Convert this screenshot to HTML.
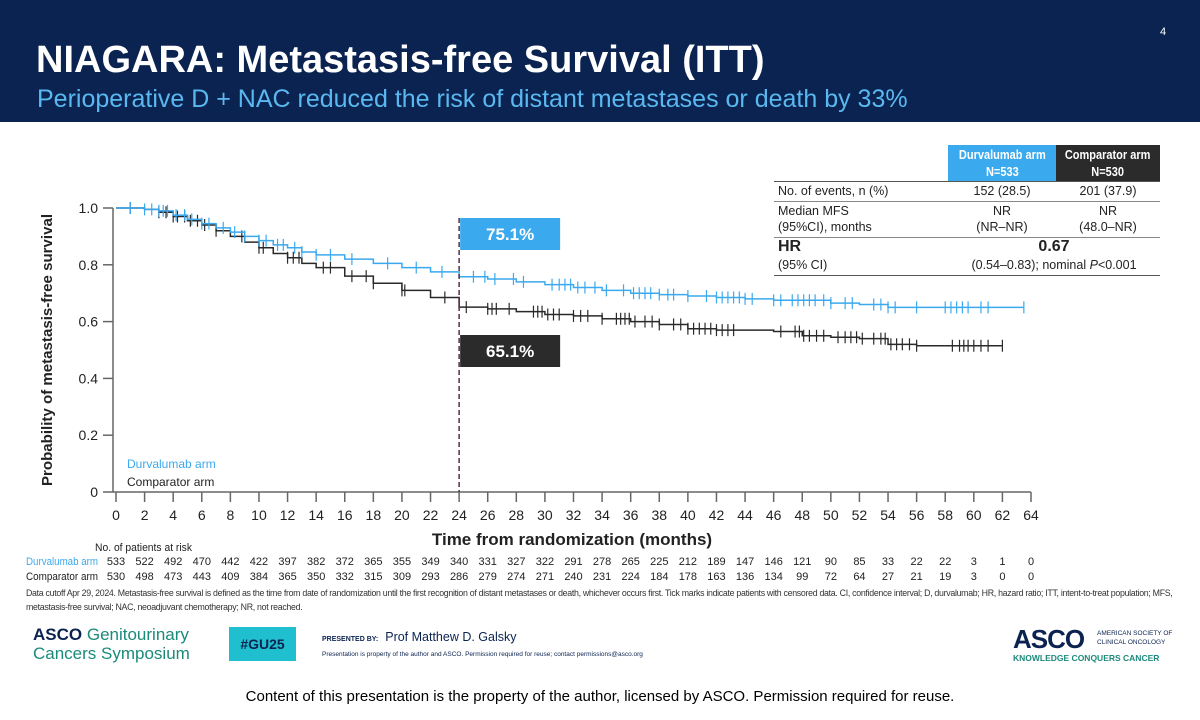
<!DOCTYPE html>
<html><head><meta charset="utf-8">
<style>
body{margin:0;width:1200px;height:720px;background:#fff;font-family:"Liberation Sans",sans-serif;overflow:hidden;position:relative}
.abs{position:absolute}
.nar{display:inline-block;transform:scaleX(0.88);transform-origin:center}
</style></head>
<body>
<div class="abs" style="left:0;top:0;width:1200px;height:122px;background:#0b2350"></div>
<div class="abs" style="left:36px;top:39px;color:#fff;font-size:38px;font-weight:bold">NIAGARA: Metastasis-free Survival (ITT)</div>
<div class="abs" style="left:37px;top:85px;color:#5ab8f0;font-size:25px">Perioperative D + NAC reduced the risk of distant metastases or death by 33%</div>
<div class="abs" style="left:1160px;top:26px;color:#fff;font-size:11px">4</div>

<div class="abs" style="left:774px;top:145px;width:386px;font-size:12.5px;color:#222">
 <div class="abs" style="left:174px;top:0;width:108px;height:36px;background:#3ba9ee;color:#fff;font-weight:bold;text-align:center;line-height:17px;padding-top:2px;box-sizing:border-box"><span class="nar">Durvalumab arm<br>N=533</span></div>
 <div class="abs" style="left:282px;top:0;width:104px;height:36px;background:#2b2b2b;color:#fff;font-weight:bold;text-align:center;line-height:17px;padding-top:2px;box-sizing:border-box"><span class="nar">Comparator arm<br>N=530</span></div>
 <div class="abs" style="left:0;top:36px;width:386px;border-top:1px solid #555"></div>
 <div class="abs" style="left:4px;top:39px">No. of events, n (%)</div>
 <div class="abs" style="left:174px;top:39px;width:108px;text-align:center">152 (28.5)</div>
 <div class="abs" style="left:282px;top:39px;width:104px;text-align:center">201 (37.9)</div>
 <div class="abs" style="left:0;top:56px;width:386px;border-top:1px solid #888"></div>
 <div class="abs" style="left:4px;top:58px;line-height:16px">Median MFS<br>(95%CI), months</div>
 <div class="abs" style="left:174px;top:58px;width:108px;text-align:center;line-height:16px">NR<br>(NR–NR)</div>
 <div class="abs" style="left:282px;top:58px;width:104px;text-align:center;line-height:16px">NR<br>(48.0–NR)</div>
 <div class="abs" style="left:0;top:92px;width:386px;border-top:1px solid #888"></div>
 <div class="abs" style="left:4px;top:93px;font-size:16px;font-weight:bold">HR</div>
 <div class="abs" style="left:174px;top:93px;width:212px;text-align:center;font-size:16px;font-weight:bold">0.67</div>
 <div class="abs" style="left:4px;top:113px">(95% CI)</div>
 <div class="abs" style="left:174px;top:113px;width:212px;text-align:center">(0.54–0.83); nominal <i>P</i>&lt;0.001</div>
 <div class="abs" style="left:0;top:130px;width:386px;border-top:1px solid #555"></div>
</div>

<svg class="abs" style="left:0;top:0" width="1200" height="620" id="chart"></svg>

<div class="abs" style="left:26px;top:586px;font-size:8.8px;letter-spacing:-0.3px;color:#333;line-height:14px;width:1155px">Data cutoff Apr 29, 2024. Metastasis-free survival is defined as the time from date of randomization until the first recognition of distant metastases or death, whichever occurs first. Tick marks indicate patients with censored data. CI, confidence interval; D, durvalumab; HR, hazard ratio; ITT, intent-to-treat population; MFS, metastasis-free survival; NAC, neoadjuvant chemotherapy; NR, not reached.</div>

<div class="abs" style="left:33px;top:625px;font-size:17px;line-height:19px;color:#1b8a7a"><b style="color:#0b2350">ASCO</b> Genitourinary<br>Cancers Symposium</div>
<div class="abs" style="left:229px;top:627px;width:67px;height:34px;background:#1fbfcf;color:#0b2350;font-weight:bold;font-size:14px;text-align:center;line-height:34px">#GU25</div>
<div class="abs" style="left:322px;top:630px;font-size:12.5px;color:#0b2350"><span style="font-size:7px;font-weight:bold">PRESENTED BY:</span>&nbsp; Prof Matthew D. Galsky</div>
<div class="abs" style="left:322px;top:651px;font-size:6.5px;color:#0b2350">Presentation is property of the author and ASCO. Permission required for reuse; contact permissions@asco.org</div>
<div class="abs" style="left:1013px;top:624px;color:#0b2350"><span style="font-size:26px;font-weight:bold;letter-spacing:-1px">ASCO</span><span style="position:absolute;left:84px;top:5px;font-size:6.5px;width:80px;line-height:9px">AMERICAN SOCIETY OF CLINICAL ONCOLOGY</span><div style="font-size:8.5px;color:#1b8a7a;font-weight:bold;margin-top:-2px">KNOWLEDGE CONQUERS CANCER</div></div>
<div class="abs" style="left:0;top:688px;width:1200px;text-align:center;font-size:15px;color:#000">Content of this presentation is the property of the author, licensed by ASCO. Permission required for reuse.</div>

<script>
const xTicks=[0,2,4,6,8,10,12,14,16,18,20,22,24,26,28,30,32,34,36,38,40,42,44,46,48,50,52,54,56,58,60,62,64];
const yTicks=[0,0.2,0.4,0.6,0.8,1.0];
const yTickLabels=["0","0.2","0.4","0.6","0.8","1.0"];
const durTimes=[0,1,2,3,4,5,6,7,8,9,10,11,12,13,14,16,18,20,22,24,26,28,30,32,34,36,38,40,42,44,46,48,50,52,54,56,63.5];
const durSurv=[1,1,0.995,0.99,0.975,0.96,0.945,0.93,0.915,0.9,0.885,0.87,0.86,0.845,0.835,0.82,0.805,0.79,0.775,0.758,0.75,0.74,0.73,0.72,0.71,0.70,0.695,0.69,0.685,0.68,0.675,0.675,0.665,0.66,0.65,0.65,0.65];
const compTimes=[0,1,2,3,4,5,6,7,8,9,10,11,12,13,14,16,18,20,22,24,26,28,30,32,34,36,38,40,42,44,46,48,50,52,54,56,62];
const compSurv=[1,1,0.995,0.985,0.97,0.955,0.94,0.92,0.9,0.88,0.86,0.84,0.825,0.805,0.79,0.76,0.735,0.71,0.685,0.651,0.645,0.635,0.625,0.62,0.61,0.60,0.59,0.575,0.57,0.57,0.565,0.55,0.545,0.54,0.52,0.515,0.515];
const durCensor=[1,2,2.5,3,3.3,3.6,4.2,4.8,5.3,6,6.5,7.5,8.3,9,10,10.5,11.3,11.7,12.5,13,14,15,16.5,19,21,22.8,25,25.8,26.5,27.8,28.5,30.5,31,31.4,31.8,32.3,32.8,33.5,34.3,35.5,36.2,36.6,37,37.4,38,38.6,39,40,41.3,42,42.4,42.8,43.2,43.6,44,44.5,46,46.5,47.3,47.7,48.1,48.5,48.9,49.5,50,51,51.5,53,53.5,54,54.5,56,58,58.4,58.8,59.2,59.6,60.5,61,63.5];
const compCensor=[1,3,3.5,4,4.3,4.8,5.2,5.7,6.2,7,8.8,10,10.3,12,12.4,12.8,14.5,15,16.5,17.5,18,20,20.2,23,24.5,26,26.3,26.6,27.5,29.2,29.5,29.8,30.2,30.6,31,32,32.5,33,34,35,35.3,35.6,35.9,36.3,37,37.5,38,39,39.5,40,40.4,40.8,41.2,41.6,42,42.4,42.8,43.2,46.5,47.5,47.8,48.1,48.5,49,49.5,50.5,51,51.4,51.8,52.2,53,53.5,53.8,54.2,54.6,55,55.5,56,58.5,59,59.3,59.6,60,60.5,61,62];
const riskDur=[533,522,492,470,442,422,397,382,372,365,355,349,340,331,327,322,291,278,265,225,212,189,147,146,121,90,85,33,22,22,3,1,0];
const riskComp=[530,498,473,443,409,384,365,350,332,315,309,293,286,279,274,271,240,231,224,184,178,163,136,134,99,72,64,27,21,19,3,0,0];

const NS="http://www.w3.org/2000/svg";
const svg=document.getElementById('chart');
const X0=116,X1=1031,Y0=492,Y1=208;
const xs=t=>X0+(t/64)*(X1-X0);
const ys=v=>Y0-v*(Y0-Y1);
function mk(tag,attrs,parent){const e=document.createElementNS(NS,tag);for(const k in attrs)e.setAttribute(k,attrs[k]);(parent||svg).appendChild(e);return e;}
function txt(s,attrs){const e=mk('text',attrs);e.textContent=s;return e;}

let ax=mk('line',{x1:X0-3,y1:Y1,x2:X0-3,y2:Y0,stroke:'#666','stroke-width':1.5});


let axx=mk('line',{x1:X0-3,y1:Y0,x2:X1,y2:Y0,stroke:'#666','stroke-width':1.5});


yTicks.forEach((v,i)=>{
  mk('line',{x1:X0-13,y1:ys(v),x2:X0-3,y2:ys(v),stroke:'#666','stroke-width':1.5});
  const t=txt(yTickLabels[i],{x:X0-18,y:ys(v)+5,'text-anchor':'end','font-size':14,fill:'#222'});
  
  
});
xTicks.forEach((v,i)=>{
  mk('line',{x1:xs(v),y1:Y0,x2:xs(v),y2:Y0+10,stroke:'#666','stroke-width':1.5});
  const t=txt(String(v),{x:xs(v),y:Y0+28,'text-anchor':'middle','font-size':14,fill:'#222'});
  
  
  const a=txt(String(riskDur[i]),{x:xs(v),y:565,'text-anchor':'middle','font-size':11,fill:'#222'});
  
  
  const b=txt(String(riskComp[i]),{x:xs(v),y:580,'text-anchor':'middle','font-size':11,fill:'#222'});
  
  
});
let yt=txt('Probability of metastasis-free survival',{x:0,y:0,transform:'translate(52,350) rotate(-90)','text-anchor':'middle','font-size':15,'font-weight':'bold',fill:'#222',textLength:272,lengthAdjust:'spacingAndGlyphs'});


let xt=txt('Time from randomization (months)',{x:572,y:545,'text-anchor':'middle','font-size':17,'font-weight':'bold',fill:'#222'});


let rt=txt('No. of patients at risk',{x:95,y:551,'font-size':11,fill:'#222',textLength:97,lengthAdjust:'spacingAndGlyphs'});


let rl1=txt('Durvalumab arm',{x:26,y:565,'font-size':11,fill:'#3ba9ee',textLength:72,lengthAdjust:'spacingAndGlyphs'});


let rl2=txt('Comparator arm',{x:26,y:580,'font-size':11,fill:'#222',textLength:72,lengthAdjust:'spacingAndGlyphs'});



function step(times,surv){let d=`M${xs(times[0])},${ys(surv[0])}`;for(let i=1;i<times.length;i++){d+=`H${xs(times[i])}V${ys(surv[i])}`;}return d;}
function survAt(times,surv,t){let v=surv[0];for(let i=0;i<times.length;i++){if(times[i]<=t)v=surv[i];}return v;}
function drawSeries(times,surv,cens,col,name){
  const p=mk('path',{d:step(times,surv),fill:'none',stroke:col,'stroke-width':1.5});
  
  
  cens.forEach(t=>{const y=ys(survAt(times,surv,t));
    const c=mk('line',{x1:xs(t),y1:y-6,x2:xs(t),y2:y+6,stroke:col,'stroke-width':1.2});
    
    
  });
}
drawSeries(compTimes,compSurv,compCensor,'#2a2a2a','comparator');
drawSeries(durTimes,durSurv,durCensor,'#3ba9ee','durvalumab');

let dl=mk('line',{x1:xs(24),y1:218,x2:xs(24),y2:Y0,stroke:'#5a2d50','stroke-width':1.5,'stroke-dasharray':'5,3'});


let bb=mk('rect',{x:xs(24)+1,y:218,width:100,height:32,fill:'#3ba9ee'});


txt('75.1%',{x:xs(24)+51,y:240,'text-anchor':'middle','font-size':17,'font-weight':'bold',fill:'#fff'});
let kb=mk('rect',{x:xs(24)+1,y:335,width:100,height:32,fill:'#2b2b2b'});


txt('65.1%',{x:xs(24)+51,y:357,'text-anchor':'middle','font-size':17,'font-weight':'bold',fill:'#fff'});
let l1=txt('Durvalumab arm',{x:127,y:468,'font-size':12,fill:'#3ba9ee'});


let l2=txt('Comparator arm',{x:127,y:486,'font-size':12,fill:'#222'});


</script>
</body></html>
